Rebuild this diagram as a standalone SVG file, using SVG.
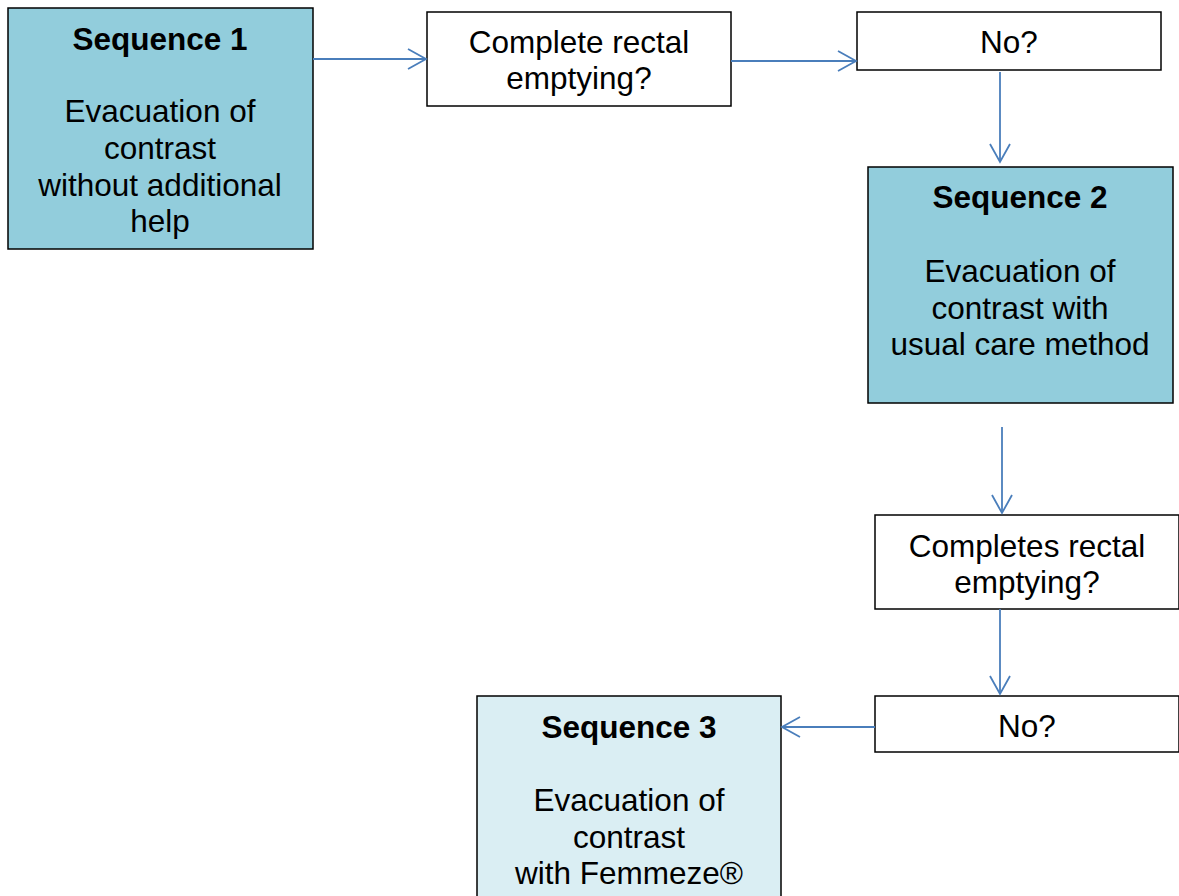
<svg xmlns="http://www.w3.org/2000/svg" width="1179" height="896" viewBox="0 0 1179 896">
<defs>
<marker id="arr" markerWidth="22" markerHeight="24" refX="19" refY="11" orient="auto" markerUnits="userSpaceOnUse">
<path d="M1,1 L19,11 L1,21" fill="none" stroke="#4A7EBB" stroke-width="1.8"/>
</marker>
</defs>
<style>
.box{stroke:#000;stroke-width:1.5}
.dark{fill:#92CDDC}
.light{fill:#DAEEF3}
.white{fill:#fff}
text{font-family:"Liberation Sans",Arial,sans-serif;font-size:31.5px;fill:#000;text-anchor:middle}
.b{font-weight:bold}
.c{stroke:#4A7EBB;stroke-width:1.8;fill:none;marker-end:url(#arr)}
</style>
<rect width="1179" height="896" fill="#fff"/>
<g id="seq1">
<rect class="box dark" x="8" y="8" width="305" height="241"/>
<text class="b" x="160" y="50">Sequence 1</text>
<text x="160" y="122">Evacuation of</text>
<text x="160" y="159">contrast</text>
<text x="160" y="196">without additional</text>
<text x="160" y="232">help</text>
</g>
<g id="q1">
<rect class="box white" x="427" y="12" width="304" height="94"/>
<text x="579" y="53">Complete rectal</text>
<text x="579" y="89">emptying?</text>
</g>
<g id="no1">
<rect class="box white" x="857" y="12" width="304" height="58"/>
<text x="1009" y="53">No?</text>
</g>
<g id="seq2">
<rect class="box dark" x="868" y="167" width="305" height="236"/>
<text class="b" x="1020" y="208">Sequence 2</text>
<text x="1020" y="282">Evacuation of</text>
<text x="1020" y="319">contrast with</text>
<text x="1020" y="355">usual care method</text>
</g>
<g id="q2">
<rect class="box white" x="875" y="515" width="304" height="94"/>
<text x="1027" y="557">Completes rectal</text>
<text x="1027" y="593">emptying?</text>
</g>
<g id="no2">
<rect class="box white" x="875" y="696" width="304" height="56"/>
<text x="1027" y="737">No?</text>
</g>
<g id="seq3">
<rect class="box light" x="477" y="696" width="304" height="220"/>
<text class="b" x="629" y="738">Sequence 3</text>
<text x="629" y="811">Evacuation of</text>
<text x="629" y="848">contrast</text>
<text x="629" y="884">with Femmeze®</text>
</g>
<g id="connectors">
<line class="c" x1="313" y1="59" x2="426" y2="59"/>
<line class="c" x1="731" y1="61" x2="856" y2="61"/>
<line class="c" x1="1000" y1="72" x2="1000" y2="162"/>
<line class="c" x1="1002" y1="427" x2="1002" y2="513"/>
<line class="c" x1="1000" y1="609" x2="1000" y2="694"/>
<line class="c" x1="875" y1="727" x2="782" y2="727"/>
</g>
</svg>
